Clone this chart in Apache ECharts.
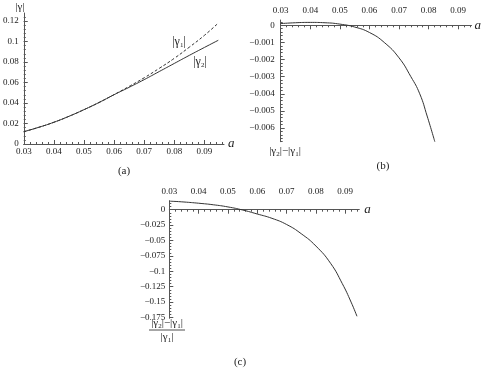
<!DOCTYPE html>
<html><head><meta charset="utf-8">
<script src="https://cdn.jsdelivr.net/npm/echarts@6/dist/echarts.min.js"></script>
<style>html,body{margin:0;padding:0;background:#fff}#c{width:482px;height:375px}</style>
</head><body><div id="c"></div><script>
// ---- data ----
// panel (a): |gamma1| (dashed) and |gamma2| (solid) vs a
const aA = [0.030, 0.035, 0.040, 0.045, 0.050, 0.055, 0.060, 0.065, 0.070, 0.075, 0.080, 0.085, 0.090, 0.0946];
const gamma1 = [0.0120, 0.0163, 0.0212, 0.0270, 0.0335, 0.0405, 0.0482, 0.0562, 0.0646, 0.0738, 0.0836, 0.0945, 0.1060, 0.1180];
const gamma2 = [0.0120, 0.0163, 0.0212, 0.0270, 0.0335, 0.0405, 0.0481, 0.0553, 0.0628, 0.0707, 0.0786, 0.0865, 0.0942, 0.1012];
// panel (b): |gamma2| - |gamma1|
const aB = [0.030, 0.035, 0.040, 0.045, 0.050, 0.055, 0.060, 0.065, 0.070, 0.074, 0.077, 0.0795, 0.0821];
const diffB = [0.00010, 0.00015, 0.00017, 0.00015, 0.00007, -0.00010, -0.00042, -0.0010, -0.0019, -0.0030, -0.0040, -0.0053, -0.0068];
// panel (c): (|gamma2| - |gamma1|) / |gamma1|
const aC = [0.030, 0.035, 0.040, 0.045, 0.050, 0.055, 0.060, 0.065, 0.070, 0.075, 0.080, 0.085, 0.089, 0.092, 0.094];
const relC = [0.0140, 0.0125, 0.0105, 0.0080, 0.0045, -0.0005, -0.0070, -0.0140, -0.0240, -0.0390, -0.0590, -0.0870, -0.1200, -0.1500, -0.1730];
// tick labels
const xTicks = [0.03, 0.04, 0.05, 0.06, 0.07, 0.08, 0.09];
const yTicksA = [0, 0.02, 0.04, 0.06, 0.08, 0.1, 0.12];
const yTicksB = [0, -0.001, -0.002, -0.003, -0.004, -0.005, -0.006];
const yTicksC = [0, -0.025, -0.05, -0.075, -0.1, -0.125, -0.15, -0.175];

// ---- styling / layout ----
const SERIF = '"Liberation Serif", "DejaVu Serif", serif';
const AXC = '#555', TXT = '#222', LINE = '#333';

function minorTicks(min, max, step) {
  const out = [];
  for (let k = Math.ceil(min / step - 1e-6); k * step <= max + 1e-9; k++) out.push(+(k * step).toFixed(6));
  return out;
}
function fmt(v) { return String(+(+v).toFixed(4)).replace('-', '\u2212'); }
function pairs(xs, ys) { return xs.map((x, i) => [x, ys[i]]); }

function mainAxis(gi, min, max, pos, majors, margin, withName, nameGap) {
  const ax = {
    type: 'value', gridIndex: gi, min: min, max: max, position: pos,
    axisLine: { show: true, onZero: true, lineStyle: { color: AXC, width: 1 } },
    axisTick: { show: true, inside: true, length: 4, customValues: majors, lineStyle: { color: AXC, width: 1 } },
    axisLabel: { show: true, customValues: majors, formatter: fmt, margin: margin,
      fontFamily: SERIF, fontSize: 9, color: TXT },
    splitLine: { show: false }, minorTick: { show: false }
  };
  if (withName) {
    ax.name = 'a'; ax.nameLocation = 'end'; ax.nameGap = nameGap;
    ax.nameTextStyle = { fontFamily: SERIF, fontStyle: 'italic', fontSize: 13, color: TXT, verticalAlign: 'middle' };
  }
  return ax;
}
function minorAxis(gi, min, max, pos, minors) {
  return {
    type: 'value', gridIndex: gi, min: min, max: max, position: pos,
    axisLine: { show: false, onZero: true },
    axisTick: { show: true, inside: true, length: 2, customValues: minors, lineStyle: { color: AXC, width: 1 } },
    axisLabel: { show: false }, splitLine: { show: false }
  };
}

const G = {
  A: { left: 23.3, top: 13, width: 200.7, height: 131, xmin: 0.03, xmax: 0.0965, ymin: 0, ymax: 0.1278 },
  B: { left: 280.7, top: 20, width: 191, height: 121.7, xmin: 0.03, xmax: 0.0945, ymin: -0.0068, ymax: 0.00031 },
  C: { left: 169.3, top: 200.7, width: 190, height: 117.6, xmin: 0.03, xmax: 0.0948, ymin: -0.1763, ymax: 0.0146 }
};

const xAxis = [
  mainAxis(0, G.A.xmin, G.A.xmax, 'bottom', xTicks, 3, true, 4),
  minorAxis(0, G.A.xmin, G.A.xmax, 'bottom', minorTicks(G.A.xmin, G.A.xmax, 0.002)),
  mainAxis(1, G.B.xmin, G.B.xmax, 'top', xTicks, 5, true, 3),
  minorAxis(1, G.B.xmin, G.B.xmax, 'top', minorTicks(G.B.xmin, G.B.xmax, 0.002)),
  mainAxis(2, G.C.xmin, G.C.xmax, 'top', xTicks, 5, true, 5),
  minorAxis(2, G.C.xmin, G.C.xmax, 'top', minorTicks(G.C.xmin, G.C.xmax, 0.002))
];
const yAxis = [
  mainAxis(0, G.A.ymin, G.A.ymax, 'left', yTicksA, 5, false),
  minorAxis(0, G.A.ymin, G.A.ymax, 'left', minorTicks(G.A.ymin, G.A.ymax, 0.004)),
  mainAxis(1, G.B.ymin, G.B.ymax, 'left', yTicksB, 6, false),
  minorAxis(1, G.B.ymin, G.B.ymax, 'left', minorTicks(G.B.ymin, G.B.ymax, 0.0002)),
  mainAxis(2, G.C.ymin, G.C.ymax, 'left', yTicksC, 4, false),
  minorAxis(2, G.C.ymin, G.C.ymax, 'left', minorTicks(G.C.ymin, G.C.ymax, 0.005))
];

function lineSeries(xi, yi, data, dashed) {
  return { type: 'line', xAxisIndex: xi, yAxisIndex: yi, data: data, showSymbol: false, symbol: 'none',
    smooth: 0.5, silent: true,
    lineStyle: { color: LINE, width: 1, type: dashed ? [3, 2] : 'solid' } };
}

const sub = { fontSize: 7, lineHeight: 7, verticalAlign: 'bottom', fontFamily: SERIF, fill: TXT };
function txt(x, y, text, size) {
  return { type: 'text', x: x, y: y, silent: true,
    style: { text: text, fontFamily: SERIF, fontSize: size, lineHeight: size + 2, fill: TXT,
      align: 'center', verticalAlign: 'middle', rich: { s: sub } } };
}

const chart = echarts.init(document.getElementById('c'), null, { renderer: 'canvas' });
chart.setOption({
  animation: false,
  backgroundColor: '#fff',
  grid: [
    { left: G.A.left, top: G.A.top, width: G.A.width, height: G.A.height },
    { left: G.B.left, top: G.B.top, width: G.B.width, height: G.B.height },
    { left: G.C.left, top: G.C.top, width: G.C.width, height: G.C.height }
  ],
  xAxis: xAxis,
  yAxis: yAxis,
  series: [
    lineSeries(0, 0, pairs(aA, gamma1), true),
    lineSeries(0, 0, pairs(aA, gamma2), false),
    lineSeries(2, 2, pairs(aB, diffB), false),
    lineSeries(4, 4, pairs(aC, relC), false)
  ],
  graphic: [
    txt(20, 7, '|\u03b3|', 11),
    txt(179, 42, '|\u03b3{s|1}|', 12),
    txt(200, 62, '|\u03b3{s|2}|', 12),
    txt(285, 151, '|\u03b3{s|2}|\u2212|\u03b3{s|1}|', 11),
    txt(167, 323.5, '|\u03b3{s|2}|\u2212|\u03b3{s|1}|', 11),
    { type: 'line', silent: true, shape: { x1: 149, y1: 330, x2: 185, y2: 330 }, style: { stroke: TXT, lineWidth: 0.8 } },
    txt(167, 337, '|\u03b3{s|1}|', 11),
    txt(124, 171, '(a)', 11),
    txt(383, 166, '(b)', 11),
    txt(240, 362, '(c)', 11)
  ]
});
</script></body></html>
